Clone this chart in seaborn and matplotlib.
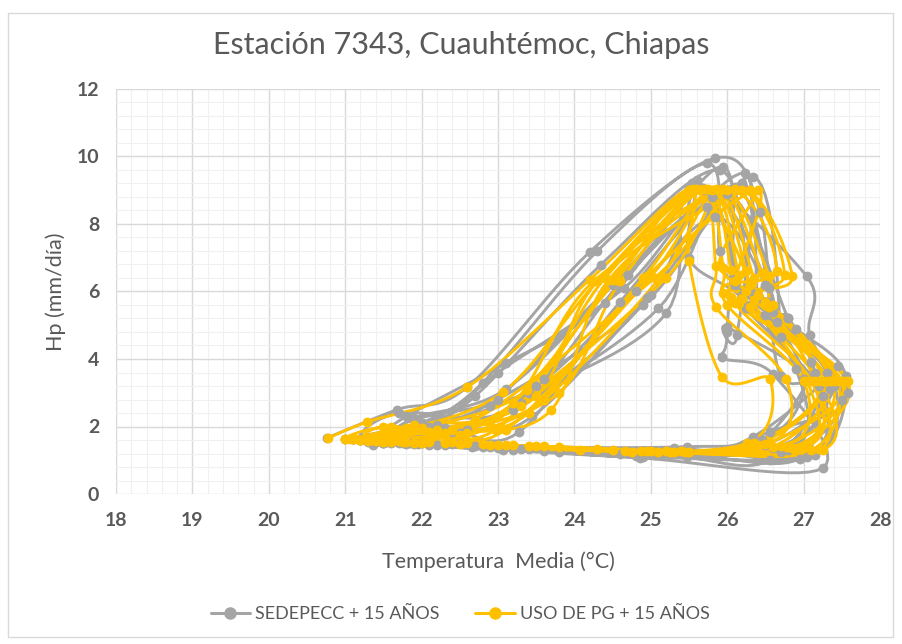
import numpy as np
import pandas as pd
import matplotlib
matplotlib.use("Agg")
import matplotlib.pyplot as plt
from matplotlib.lines import Line2D
from matplotlib.patches import Rectangle
import seaborn as sns

# Monthly values (rows = Jan..Dec, columns = 15 consecutive years)
sed_temp = [
    [20.76, 21.20, 21.40, 21.10, 21.30, 21.50, 21.00, 21.60, 21.20, 21.40, 21.10, 21.30, 21.50, 21.20, 21.37],
    [21.68, 22.00, 21.80, 22.30, 22.10, 21.90, 22.40, 22.20, 21.70, 22.50, 22.00, 22.30, 21.90, 22.60, 22.20],
    [22.60, 22.80, 23.10, 23.27, 23.00, 23.40, 22.90, 23.50, 23.20, 23.60, 22.70, 23.30, 23.10, 23.45, 23.00],
    [24.20, 24.30, 24.40, 24.60, 24.90, 25.20, 24.50, 24.80, 25.00, 24.70, 24.35, 25.10, 24.55, 24.95, 24.65],
    [25.84, 25.74, 25.95, 26.23, 26.34, 25.54, 25.74, 25.84, 25.60, 26.10, 25.90, 26.00, 25.70, 26.20, 25.80],
    [26.43, 25.90, 26.00, 26.13, 26.70, 27.04, 26.20, 26.50, 25.50, 26.60, 26.30, 26.80, 26.10, 26.40, 26.55],
    [26.70, 26.10, 25.93, 26.00, 26.50, 27.08, 26.30, 26.60, 26.20, 26.80, 26.40, 26.90, 26.25, 26.55, 26.65],
    [27.45, 27.58, 26.60, 27.20, 27.30, 27.50, 27.10, 27.40, 26.90, 27.35, 27.00, 27.55, 27.25, 27.15, 27.40],
    [26.34, 26.56, 27.25, 27.04, 26.56, 26.80, 26.40, 27.10, 26.90, 26.70, 26.45, 27.15, 26.60, 26.95, 26.50],
    [25.47, 25.47, 24.86, 25.00, 25.20, 24.70, 25.40, 24.90, 25.10, 25.30, 24.60, 25.50, 24.80, 25.25, 25.05],
    [22.66, 23.07, 22.30, 23.50, 22.80, 23.20, 22.50, 23.80, 22.90, 23.30, 22.40, 23.00, 23.60, 22.70, 23.40],
    [21.50, 21.80, 21.30, 22.00, 21.60, 21.90, 21.40, 22.10, 21.70, 21.95, 21.35, 21.85, 22.20, 21.55, 21.75],
]
sed_hp = [
    [1.66, 1.60, 1.55, 1.62, 1.58, 1.52, 1.64, 1.50, 1.60, 1.55, 1.63, 1.57, 1.50, 1.60, 1.45],
    [2.50, 2.10, 2.30, 1.90, 2.00, 2.20, 1.85, 2.00, 2.40, 1.80, 2.10, 1.95, 2.25, 1.90, 2.05],
    [3.17, 3.30, 3.87, 1.83, 2.80, 3.00, 2.60, 3.20, 2.50, 3.40, 2.90, 2.70, 3.10, 2.30, 3.60],
    [7.17, 7.20, 5.65, 5.70, 5.60, 5.35, 6.20, 6.00, 5.90, 6.50, 6.80, 5.50, 6.30, 5.80, 6.10],
    [9.95, 9.80, 9.70, 9.50, 9.40, 9.20, 8.50, 8.20, 9.30, 9.10, 9.60, 8.90, 9.00, 9.20, 8.80],
    [8.35, 7.20, 4.80, 4.70, 4.65, 6.45, 5.90, 6.20, 7.00, 5.50, 6.00, 5.20, 6.50, 5.80, 6.10],
    [3.50, 6.20, 4.05, 4.95, 5.30, 4.70, 5.60, 5.40, 5.80, 5.20, 5.90, 4.90, 5.50, 5.70, 5.10],
    [3.80, 3.00, 3.55, 3.20, 3.60, 2.80, 3.90, 3.30, 3.70, 3.10, 3.40, 3.50, 2.90, 3.60, 3.20],
    [1.70, 1.85, 0.77, 1.10, 1.00, 1.30, 1.50, 1.20, 1.40, 1.25, 1.60, 1.15, 1.35, 1.05, 1.45],
    [1.40, 1.10, 1.07, 1.20, 1.15, 1.25, 1.30, 1.10, 1.20, 1.35, 1.18, 1.28, 1.12, 1.22, 1.16],
    [1.40, 1.30, 1.45, 1.35, 1.40, 1.30, 1.50, 1.25, 1.38, 1.32, 1.48, 1.36, 1.28, 1.42, 1.34],
    [1.52, 1.48, 1.55, 1.50, 1.53, 1.47, 1.56, 1.45, 1.51, 1.49, 1.57, 1.50, 1.46, 1.54, 1.52],
]
pg_temp = [
    [20.78, 21.10, 21.30, 21.00, 21.20, 21.40, 21.10, 21.50, 21.30, 21.00, 21.60, 21.20, 21.40, 21.10, 21.30],
    [21.28, 21.70, 22.00, 21.60, 22.30, 22.00, 21.90, 22.50, 21.80, 22.20, 22.60, 21.50, 22.10, 22.40, 21.90],
    [22.60, 23.07, 23.38, 22.97, 23.80, 23.10, 23.30, 23.60, 23.00, 23.50, 23.70, 22.70, 23.20, 23.40, 22.90],
    [24.20, 24.30, 24.40, 24.50, 24.60, 24.90, 25.00, 25.10, 25.20, 24.30, 24.45, 25.05, 24.25, 24.95, 24.55],
    [25.50, 25.60, 25.65, 25.70, 25.75, 25.80, 25.85, 25.90, 25.95, 26.00, 26.10, 26.20, 26.30, 26.40, 25.55],
    [25.50, 25.85, 25.95, 26.05, 26.15, 26.25, 26.35, 26.45, 26.55, 26.65, 26.75, 26.85, 25.90, 26.10, 26.30],
    [25.93, 25.85, 26.00, 26.10, 26.20, 26.30, 26.40, 26.50, 26.60, 25.95, 26.15, 26.35, 26.55, 26.25, 26.05],
    [26.56, 26.77, 27.00, 27.10, 27.20, 27.30, 27.35, 27.40, 27.45, 27.50, 27.55, 27.05, 27.15, 27.25, 27.58],
    [26.26, 26.56, 26.78, 27.04, 27.25, 26.40, 26.60, 26.90, 27.10, 26.70, 26.50, 26.95, 27.20, 26.35, 26.85],
    [24.07, 24.66, 24.75, 24.87, 25.10, 25.20, 25.30, 25.40, 25.50, 24.50, 25.00, 24.30, 25.25, 24.95, 25.45],
    [22.00, 22.50, 23.00, 23.50, 22.30, 22.80, 23.20, 23.80, 22.60, 23.40, 22.10, 22.90, 23.60, 22.40, 23.10],
    [21.06, 21.30, 21.50, 21.70, 21.90, 21.20, 21.40, 21.60, 21.80, 22.00, 21.35, 21.55, 21.75, 21.15, 21.45],
]
pg_hp = [
    [1.66, 1.66, 1.62, 1.64, 1.60, 1.68, 1.62, 1.58, 1.65, 1.63, 1.57, 1.61, 1.66, 1.64, 1.60],
    [2.13, 1.85, 1.95, 2.00, 1.80, 1.90, 2.05, 1.75, 1.95, 1.90, 1.80, 2.00, 1.85, 1.90, 1.95],
    [3.17, 3.03, 3.08, 1.90, 3.00, 1.90, 2.60, 2.80, 2.30, 2.90, 2.50, 2.20, 2.70, 2.40, 2.05],
    [6.35, 6.30, 6.40, 6.35, 6.30, 6.40, 6.45, 6.35, 6.40, 6.30, 6.35, 6.40, 6.30, 6.45, 6.35],
    [9.02, 9.05, 9.00, 9.03, 9.05, 9.00, 9.04, 9.02, 9.05, 9.00, 9.03, 9.00, 9.02, 9.00, 9.04],
    [6.90, 6.75, 6.70, 6.65, 6.50, 6.60, 6.40, 6.55, 6.45, 6.60, 6.50, 6.45, 6.80, 6.30, 6.20],
    [3.47, 5.55, 5.60, 5.65, 5.80, 5.55, 5.90, 5.70, 5.60, 5.95, 5.65, 5.75, 5.55, 6.00, 5.85],
    [3.40, 3.40, 3.35, 3.35, 3.35, 3.35, 3.35, 3.35, 3.35, 3.35, 3.35, 3.35, 3.35, 3.35, 3.35],
    [1.50, 1.50, 1.40, 1.40, 1.30, 1.45, 1.40, 1.35, 1.30, 1.42, 1.48, 1.38, 1.32, 1.50, 1.36],
    [1.30, 1.28, 1.25, 1.27, 1.24, 1.26, 1.25, 1.27, 1.24, 1.30, 1.26, 1.32, 1.25, 1.28, 1.24],
    [1.50, 1.48, 1.45, 1.42, 1.52, 1.47, 1.44, 1.40, 1.50, 1.43, 1.55, 1.46, 1.41, 1.53, 1.45],
    [1.62, 1.58, 1.55, 1.56, 1.52, 1.60, 1.57, 1.54, 1.55, 1.50, 1.60, 1.56, 1.53, 1.62, 1.58],
]

series_names = ["SEDEPECC + 15 AÑOS", "USO DE PG + 15 AÑOS"]
series_colors = ["#A5A5A5", "#FFC000"]
x_ticks = [18, 19, 20, 21, 22, 23, 24, 25, 26, 27, 28]
y_ticks = [0, 2, 4, 6, 8, 10, 12]
TEXT = "#595959"


def chronological(temp, hp):
    """Flatten month x year tables into one time-ordered series."""
    t = np.asarray(temp).T.ravel()
    h = np.asarray(hp).T.ravel()
    return pd.DataFrame({"temp": t, "hp": h})


def smooth_path(x, y, n=14):
    """Bezier smoothing through every point (spreadsheet-style smoothed line)."""
    pts = np.column_stack([x, y])
    P = np.vstack([pts[0], pts, pts[-1]])
    out = []
    t = np.linspace(0, 1, n, endpoint=False)[:, None]
    for i in range(1, len(P) - 2):
        p0, p1, p2, p3 = P[i - 1], P[i], P[i + 1], P[i + 2]
        c1 = p1 + (p2 - p0) / 6.0
        c2 = p2 - (p3 - p1) / 6.0
        seg = ((1 - t) ** 3) * p1 + 3 * ((1 - t) ** 2) * t * c1 + 3 * (1 - t) * t ** 2 * c2 + t ** 3 * p2
        out.append(seg)
    out.append(pts[-1:])
    path = np.vstack(out)
    return pd.DataFrame({"temp": path[:, 0], "hp": path[:, 1]})


sns.set_theme(style="white")
plt.rcParams["font.family"] = ["Lato", "DejaVu Sans"]

fig = plt.figure(figsize=(9.02, 6.44), dpi=100)
ax = fig.add_axes([116 / 902, 1 - 494 / 644, (880 - 116) / 902, (494 - 89) / 644])

# chart frame
fig.patches.append(Rectangle((8 / 902, 1 - 637 / 644), 885 / 902, 624 / 644,
                             transform=fig.transFigure, fill=False,
                             edgecolor="#D9D9D9", linewidth=1.0, zorder=0))

datasets = [chronological(sed_temp, sed_hp), chronological(pg_temp, pg_hp)]
for df, color in zip(datasets, series_colors):
    curve = smooth_path(df["temp"].values, df["hp"].values)
    sns.lineplot(data=curve, x="temp", y="hp", sort=False, estimator=None,
                 color=color, linewidth=2.1, ax=ax, zorder=3)
    sns.scatterplot(data=df, x="temp", y="hp", color=color, s=50,
                    edgecolor=color, linewidth=0, ax=ax, zorder=4)

ax.set_xlim(18, 28)
ax.set_ylim(0, 12)
ax.set_xticks(x_ticks)
ax.set_yticks(y_ticks)
ax.set_xticks(np.arange(18, 28.001, 0.2), minor=True)
ax.set_yticks(np.arange(0, 12.001, 0.4), minor=True)
ax.grid(which="major", color="#D9D9D9", linewidth=1.0, zorder=0)
ax.grid(which="minor", color="#F0F0F0", linewidth=0.8, zorder=0)
ax.set_axisbelow(True)
for s in ax.spines.values():
    s.set_visible(False)
ax.tick_params(which="both", length=0)
ax.tick_params(axis="x", pad=13)
ax.tick_params(axis="y", pad=12)
for lab in ax.get_xticklabels() + ax.get_yticklabels():
    lab.set_fontsize(14)
    lab.set_fontweight("bold")
    lab.set_color(TEXT)

ax.set_xlabel("Temperatura  Media (°C)", fontsize=15.5, color=TEXT, labelpad=16)
ax.set_ylabel("Hp (mm/día)", fontsize=15.5, color=TEXT, labelpad=8)

fig.text(461 / 902, 1 - 45 / 644, "Estación 7343, Cuauhtémoc, Chiapas",
         ha="center", va="center", fontsize=22, color=TEXT)

handles = [Line2D([0], [0], color=c, linewidth=2.2, marker="o", markersize=8)
           for c in series_colors]
fig.legend(handles, series_names, loc="center", bbox_to_anchor=(460 / 902, 1 - 614 / 644),
           ncol=2, frameon=False, fontsize=13, labelcolor=TEXT,
           handlelength=2.2, columnspacing=2.0, handletextpad=0.25)

fig.savefig("out.png", dpi=100)
